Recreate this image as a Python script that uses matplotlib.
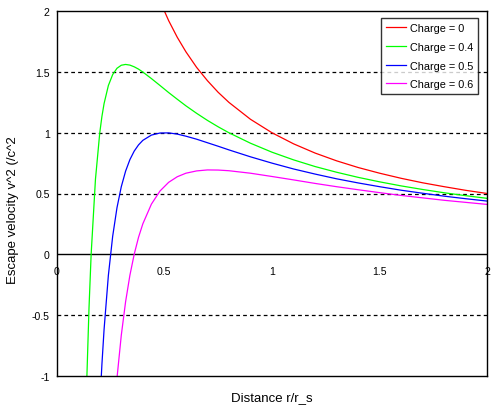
import matplotlib
matplotlib.use("Agg")
from matplotlib import pyplot as plt

plt.rcParams['font.family'] = ['Liberation Sans', 'DejaVu Sans']

# distance r/r_s
r = [0.12, 0.13, 0.14, 0.15, 0.16, 0.18, 0.20, 0.21, 0.22, 0.24, 0.26, 0.28, 0.30,
     0.32, 0.34, 0.36, 0.38, 0.40, 0.44, 0.48, 0.52, 0.56, 0.60, 0.65, 0.70,
     0.75, 0.80, 0.90, 1.00, 1.10, 1.20, 1.30, 1.40, 1.50, 1.60, 1.70, 1.80,
     1.90, 2.00]

# escape velocity v^2/c^2
charge_0 = [8.333, 7.692, 7.143, 6.667, 6.25, 5.556, 5.0, 4.762, 4.545, 4.167, 3.846,
            3.571, 3.333, 3.125, 2.941, 2.778, 2.632, 2.5, 2.273, 2.083, 1.923, 1.786,
            1.667, 1.538, 1.429, 1.333, 1.25, 1.111, 1.0, 0.909, 0.833, 0.769, 0.714,
            0.667, 0.625, 0.588, 0.556, 0.526, 0.5]
charge_04 = [-2.778, -1.775, -1.020, -0.444, 0.0, 0.617, 1.0, 1.134, 1.240, 1.389, 1.479,
             1.531, 1.556, 1.5625, 1.557, 1.543, 1.524, 1.5, 1.446, 1.389, 1.331, 1.276,
             1.222, 1.160, 1.102, 1.049, 1.0, 0.914, 0.84, 0.777, 0.722, 0.675, 0.633,
             0.596, 0.5625, 0.533, 0.506, 0.482, 0.46]
charge_05 = [-9.028, -7.101, -5.612, -4.444, -3.516, -2.160, -1.25, -0.907, -0.620, -0.174,
             0.148, 0.383, 0.556, 0.684, 0.779, 0.849, 0.900, 0.9375, 0.981, 0.998, 0.999,
             0.989, 0.972, 0.947, 0.918, 0.889, 0.859, 0.802, 0.75, 0.702, 0.660, 0.621,
             0.587, 0.556, 0.527, 0.502, 0.478, 0.457, 0.4375]
charge_06 = [-16.667, -13.609, -11.224, -9.333, -7.8125, -5.556, -4.0, -3.401, -2.893,
             -2.083, -1.479, -1.020, -0.667, -0.391, -0.173, 0.0, 0.139, 0.25, 0.413,
             0.521, 0.592, 0.638, 0.667, 0.686, 0.694, 0.693, 0.6875, 0.667, 0.64, 0.612,
             0.583, 0.556, 0.531, 0.507, 0.484, 0.464, 0.444, 0.427, 0.41]

series = [("Charge = 0", charge_0, "#ff0000"),
          ("Charge = 0.4", charge_04, "#00ff00"),
          ("Charge = 0.5", charge_05, "#0000ff"),
          ("Charge = 0.6", charge_06, "#ff00ff")]

xticks = [0, 0.5, 1, 1.5, 2]
xticklabels = ["0", "0.5", "1", "1.5", "2"]
yticks = [-1, -0.5, 0, 0.5, 1, 1.5, 2]
yticklabels = ["-1", "-0.5", "0", "0.5", "1", "1.5", "2"]

fig = plt.figure(figsize=(4.95, 4.1), dpi=100)
ax = fig.add_axes([56.7 / 495, 1 - 376.7 / 410, 430.6 / 495, 364.4 / 410])

for yy in [1.5, 1, 0.5, -0.5]:
    ax.axhline(yy, color="black", lw=0.9, ls=(0, (3, 2.5)), zorder=1)
ax.axhline(0, color="black", lw=1.0, zorder=1)

for name, vals, col in series:
    ax.plot(r, vals, color=col, lw=0.9, label=name, zorder=2)

ax.set_xlim(0, 2)
ax.set_ylim(-1, 2)
for s in ax.spines.values():
    s.set_linewidth(1.0)

ax.set_xticks([])
ax.set_yticks(yticks)
ax.set_yticklabels(yticklabels, fontsize=7.6)
ax.tick_params(axis="y", length=0, pad=5)

for xv, lab in zip(xticks, xticklabels):
    ax.annotate(lab, (xv, 0), xytext=(0, -12), textcoords="offset points",
                ha="center", va="center", fontsize=7.6, annotation_clip=False)

fig.text(13 / 495, 1 - 210 / 410, "Escape velocity v^2 (/c^2", rotation=90,
         ha="center", va="center", fontsize=9.5)
fig.text(271.5 / 495, 1 - 398 / 410, "Distance r/r_s", ha="center", va="center",
         fontsize=9.5)

leg = ax.legend(loc="upper right", bbox_to_anchor=(478.3 / 495, 1 - 19.3 / 410),
                bbox_transform=fig.transFigure, fontsize=7.8, frameon=True,
                fancybox=False, borderpad=0.45, handlelength=1.9, handletextpad=0.35,
                labelspacing=0.8, borderaxespad=0)
leg.get_frame().set_edgecolor("black")
leg.get_frame().set_linewidth(1.0)

fig.savefig("out.png", dpi=100)
